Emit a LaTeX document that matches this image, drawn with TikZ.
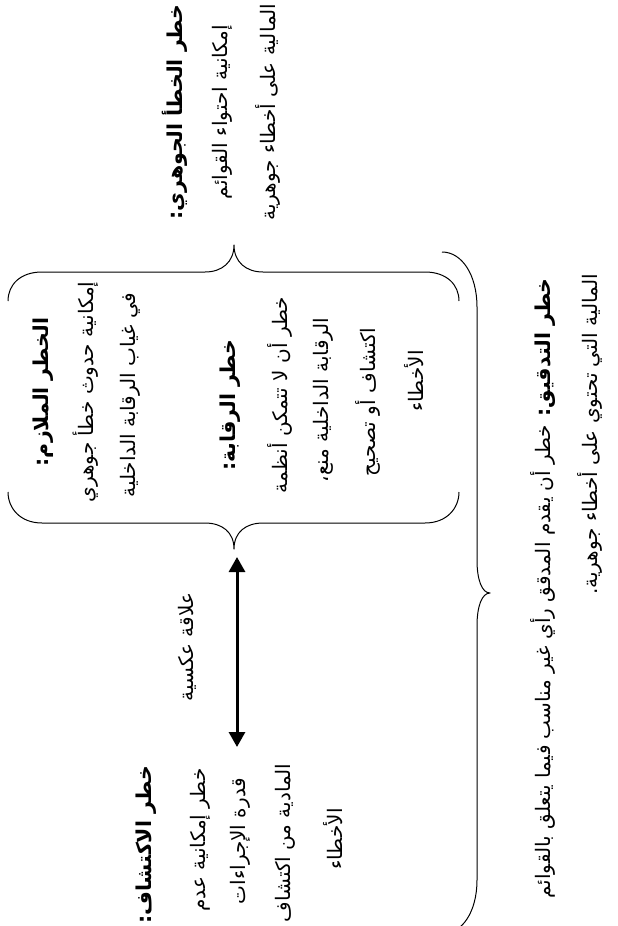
\documentclass[tikz,border=0pt]{standalone}
\usepackage{fontspec}
\usetikzlibrary{arrows.meta}
\TeXXeTstate=1
\newfontfamily\ar[Script=Arabic]{DejaVu Sans}
\tikzset{
  txt/.style={rotate=90, inner sep=0pt, font=\ar\fontsize{20}{24}\selectfont},
  hd/.style={txt, font=\ar\bfseries\fontsize{20.5}{24}\selectfont},
  bracepath/.style={line width=1pt, line join=round},
  twoway/.style={line width=3pt, {Triangle[width=16pt,length=15pt]}-{Triangle[width=16pt,length=15pt]}},
}
\begin{document}
\begin{tikzpicture}[x=1pt,y=-1pt]
\fill[white] (0,0) rectangle (618,926);
\useasboundingbox (0,0) rectangle (618,926);
% block A
\node[hd]  (a0) at (175,112) {\beginR خطر الخطأ الجوهري:\endR};
\node[txt] (a1) at (222,112) {\beginR إمكانية احتواء القوائم\endR};
\node[txt] (a2) at (268,112) {\beginR المالية على أخطاء جوهرية\endR};
% top brace
\draw[bracepath] (8,301) .. controls (8,285) and (20,272) .. (42,272) -- (205,272)
  .. controls (222,272) and (234,262) .. (234,245)
  .. controls (234,262) and (246,272) .. (263,272) -- (425,272)
  .. controls (447,272) and (459,285) .. (459,301);
% block B
\node[hd]  (b0) at (43,392) {\beginR الخطر الملازم:\endR};
\node[txt] (b1) at (86,392) {\beginR إمكانية حدوث خطأ جوهري\endR};
\node[txt] (b2) at (130,395) {\beginR في غياب الرقابة الداخلية\endR};
% block C
\node[hd]  (c0) at (230,405) {\beginR خطر الرقابة:\endR};
\node[txt] (c1) at (280,395) {\beginR خطر أن لا تتمكن أنظمة\endR};
\node[txt] (c2) at (323,400) {\beginR الرقابة الداخلية منع،\endR};
\node[txt] (c3) at (368,402) {\beginR اكتشاف أو تصحيح\endR};
\node[txt] (c4) at (414,381) {\beginR الأخطاء\endR};
% bottom brace
\draw[bracepath] (8,492) .. controls (8,508) and (20,523) .. (42,523) -- (205,523)
  .. controls (222,523) and (234,532) .. (234,549)
  .. controls (234,532) and (246,523) .. (263,523) -- (425,523)
  .. controls (447,523) and (459,508) .. (459,492);
% arrow
\coordinate (arT) at (237,557);
\coordinate (arB) at (237,747);
\draw[twoway] (arT) -- (arB);
\node[txt] (d0) at (187,647) {\beginR علاقة عكسية\endR};
% block E
\node[hd]  (e0) at (146,845) {\beginR خطر الاكتشاف:\endR};
\node[txt] (e1) at (200,840) {\beginR خطر إمكانية عدم\endR};
\node[txt] (e2) at (240,841) {\beginR قدرة الإجراءات\endR};
\node[txt] (e3) at (285,843) {\beginR المادية من اكتشاف\endR};
\node[txt] (e4) at (333,839) {\beginR الأخطاء\endR};
% right brace
\draw[bracepath] (442,252) .. controls (462,252) and (477,275) .. (477,307) -- (477,560)
  .. controls (477,580) and (482,593) .. (490,593)
  .. controls (482,593) and (477,606) .. (477,626) -- (477,880)
  .. controls (477,912) and (462,934) .. (442,934);
% block F
\node[txt, anchor=east] (f1) at (543,278) {\beginR{\bfseries\fontsize{20.5}{24}\selectfont خطر التدقيق:} خطر أن يقدم المدقق رأي غير مناسب فيما يتعلق بالقوائم\endR};
\node[txt, anchor=east] (f2) at (590,274) {\beginR المالية التي تحتوي على أخطاء جوهرية.\endR};
\end{tikzpicture}
\end{document}
